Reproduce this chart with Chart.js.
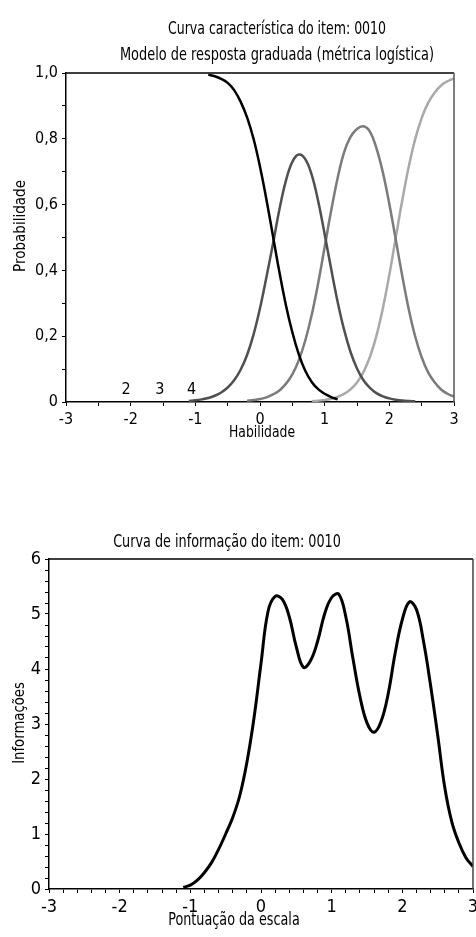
<!DOCTYPE html>
<html lang="pt">
<head>
<meta charset="utf-8">
<title>Curva característica do item: 0010</title>
<script src="https://cdn.jsdelivr.net/npm/chart.js@4"></script>
<style>
  html, body { margin: 0; padding: 0; background: #fff; }
  body { width: 476px; height: 937px; position: relative; overflow: hidden; }
  canvas { position: absolute; left: 0; }
  #curvaItem { top: 0; }
  #curvaInfo { top: 520px; }
</style>
</head>
<body>
<canvas id="curvaItem" width="476" height="450"></canvas>
<canvas id="curvaInfo" width="476" height="417"></canvas>
<script>
const FONTE = "'Liberation Sans Narrow', 'DejaVu Sans Condensed', 'Liberation Sans', sans-serif";

const habilidade = [-1.1, -1.0, -0.9, -0.8, -0.7, -0.6, -0.5, -0.4, -0.3, -0.2, -0.1, 0.0,
  0.1, 0.2, 0.3, 0.4, 0.5, 0.6, 0.7, 0.8, 0.9, 1.0, 1.1, 1.2, 1.3, 1.4, 1.5, 1.6, 1.7, 1.8,
  1.9, 2.0, 2.1, 2.2, 2.3, 2.4, 2.5, 2.6, 2.7, 2.8, 2.9, 3.0];

// probabilidade de cada categoria (null = trecho não desenhado)
const categoria1 = [null, null, null, 0.995, 0.99, 0.982, 0.97, 0.948, 0.913, 0.865, 0.80, 0.715,
  0.615, 0.505, 0.395, 0.295, 0.212, 0.145, 0.095, 0.061, 0.039, 0.025, 0.015, 0.008,
  null, null, null, null, null, null, null, null, null, null, null, null, null, null, null, null, null, null];
const categoria2 = [0.003, 0.005, 0.008, 0.012, 0.019, 0.029, 0.044, 0.066, 0.098, 0.143, 0.205, 0.285,
  0.38, 0.48, 0.585, 0.672, 0.73, 0.752, 0.738, 0.69, 0.61, 0.51, 0.405, 0.305, 0.22, 0.152, 0.102,
  0.066, 0.043, 0.027, 0.017, 0.011, 0.007, 0.0045, 0.003, 0.002, null, null, null, null, null, null];
const categoria3 = [null, null, null, null, null, null, null, null, null, 0.004, 0.006, 0.009,
  0.014, 0.023, 0.035, 0.055, 0.084, 0.127, 0.187, 0.265, 0.362, 0.471, 0.581, 0.68, 0.759, 0.806,
  0.83, 0.838, 0.822, 0.772, 0.698, 0.602, 0.493, 0.383, 0.282, 0.199, 0.136, 0.09, 0.06, 0.038, 0.025, 0.016];
const categoria4 = [null, null, null, null, null, null, null, null, null, null, null, null,
  null, null, null, null, null, null, null, 0.0025, 0.004, 0.0063, 0.01, 0.0157, 0.0246, 0.0384, 0.0595,
  0.091, 0.137, 0.201, 0.285, 0.387, 0.5, 0.613, 0.715, 0.799, 0.863, 0.909, 0.94, 0.962, 0.975, 0.984];

const coresCategoria = ["#000000", "#505050", "#7b7b7b", "#a9a9a9"];

// rótulos soltos perto do zero
const rotulosCategoria = ["2", "3", "4"];
const rotulosX = [-2.07, -1.55, -1.06];
const rotulosY = [0.025, 0.025, 0.025];

// função de informação do item
const informacao = [0.03, 0.07, 0.16, 0.30, 0.48, 0.72, 1.0, 1.3, 1.7, 2.3, 3.1, 4.1,
  5.05, 5.32, 5.27, 4.95, 4.4, 4.03, 4.15, 4.5, 5.0, 5.3, 5.36, 4.95, 4.2, 3.5, 3.02, 2.85,
  3.05, 3.55, 4.3, 4.9, 5.22, 5.08, 4.5, 3.7, 2.8, 1.85, 1.22, 0.84, 0.57, 0.41];

const pontos = arr => arr.map((v, i) => ({ x: habilidade[i], y: v }));

// textos livres (títulos e nomes dos eixos), um pouco comprimidos na horizontal
const textos = {
    id: "textos",
    afterDraw(chart, args, opts) {
        const ctx = chart.ctx;
        ctx.save();
        ctx.fillStyle = "#000";
        ctx.textAlign = "center";
        ctx.textBaseline = "alphabetic";
        (opts.itens || []).forEach(t => {
            ctx.save();
            ctx.font = t.tamanho + "px " + FONTE;
            ctx.translate(t.x, t.y);
            if (t.vertical) ctx.rotate(-Math.PI / 2);
            ctx.scale(t.k || 1, 1);
            ctx.fillText(t.texto, 0, 0);
            ctx.restore();
        });
        if (opts.rotulos) {
            const sx = chart.scales.x, sy = chart.scales.y;
            ctx.font = opts.rotulos.tamanho + "px " + FONTE;
            rotulosCategoria.forEach((r, i) => {
                ctx.fillText(r, sx.getPixelForValue(rotulosX[i]), sy.getPixelForValue(rotulosY[i]));
            });
        }
        ctx.restore();
    }
};

// borda de cima e da direita
const moldura = {
    id: "moldura",
    afterDraw(chart, args, opts) {
        const { ctx, chartArea: a } = chart;
        ctx.save();
        ctx.lineWidth = 1.5;
        ctx.strokeStyle = "#000";
        ctx.beginPath();
        ctx.moveTo(a.left, a.top);
        ctx.lineTo(a.right, a.top);
        ctx.stroke();
        ctx.strokeStyle = opts.corDireita;
        ctx.beginPath();
        ctx.moveTo(a.right, a.top);
        ctx.lineTo(a.right, a.bottom);
        ctx.stroke();
        ctx.restore();
    }
};

function eixo(tamanho) {
    return {
        grid: { display: true, drawOnChartArea: false, drawTicks: true, tickLength: 4, color: "#000", lineWidth: 1 },
        border: { display: true, color: "#000", width: 1.5 },
        ticks: { color: "#000", padding: 4, autoSkip: false, maxRotation: 0, font: { family: FONTE, size: tamanho } }
    };
}

const virgula = v => {
    const d = Math.round(v * 10);
    if (d % 2) return "";
    return d === 0 ? "0" : (d / 10).toFixed(1).replace(".", ",");
};
const inteiro = v => Math.abs(v - Math.round(v)) < 1e-6 ? String(Math.round(v)) : "";

// gráfico 1: curvas características
const ex1 = eixo(16), ey1 = eixo(16);
new Chart(document.getElementById("curvaItem"), {
    type: "line",
    data: {
        datasets: [categoria1, categoria2, categoria3, categoria4].map((c, i) => ({
            label: "Categoria " + (i + 1),
            data: pontos(c),
            borderColor: coresCategoria[i],
            borderWidth: 2.5,
            pointRadius: 0,
            fill: false,
            tension: 0.4
        }))
    },
    options: {
        responsive: false,
        animation: false,
        layout: { padding: { left: 0, right: 22, top: 73, bottom: 0 } },
        plugins: {
            legend: { display: false },
            tooltip: { enabled: false },
            textos: {
                itens: [
                    { texto: "Curva característica do item: 0010", x: 277, y: 33.5, tamanho: 17, k: 0.82 },
                    { texto: "Modelo de resposta graduada (métrica logística)", x: 277, y: 60, tamanho: 17, k: 0.845 },
                    { texto: "Habilidade", x: 262, y: 437, tamanho: 16, k: 0.86 },
                    { texto: "Probabilidade", x: 25, y: 226, tamanho: 16, k: 0.94, vertical: true }
                ],
                rotulos: { tamanho: 16 }
            },
            moldura: { corDireita: "#555" }
        },
        scales: {
            x: {
                type: "linear", min: -3, max: 3,
                grid: ex1.grid, border: ex1.border,
                ticks: { ...ex1.ticks, stepSize: 0.5, callback: inteiro },
                afterFit(s) { s.height = 48; s.paddingLeft = 0; s.paddingRight = 0; }
            },
            y: {
                min: 0, max: 1,
                grid: ey1.grid, border: ey1.border,
                ticks: { ...ey1.ticks, stepSize: 0.1, callback: virgula },
                afterFit(s) { s.width = 66; s.paddingTop = 0; s.paddingBottom = 0; }
            }
        }
    },
    plugins: [textos, moldura]
});

// gráfico 2: curva de informação
const ex2 = eixo(18), ey2 = eixo(18);
new Chart(document.getElementById("curvaInfo"), {
    type: "line",
    data: {
        datasets: [{
            label: "Informações",
            data: pontos(informacao),
            borderColor: "#000",
            borderWidth: 3,
            pointRadius: 0,
            fill: false,
            tension: 0.4
        }]
    },
    options: {
        responsive: false,
        animation: false,
        layout: { padding: { left: 0, right: 3, top: 39, bottom: 0 } },
        plugins: {
            legend: { display: false },
            tooltip: { enabled: false },
            textos: {
                itens: [
                    { texto: "Curva de informação do item: 0010", x: 227, y: 27, tamanho: 18, k: 0.79 },
                    { texto: "Pontuação da escala", x: 234, y: 405, tamanho: 17, k: 0.835 },
                    { texto: "Informações", x: 24, y: 203, tamanho: 16, k: 0.92, vertical: true }
                ]
            },
            moldura: { corDireita: "#444" }
        },
        scales: {
            x: {
                type: "linear", min: -3, max: 3,
                grid: ex2.grid, border: ex2.border,
                ticks: { ...ex2.ticks, stepSize: 0.2, callback: inteiro },
                afterFit(s) { s.height = 48; s.paddingLeft = 0; s.paddingRight = 0; }
            },
            y: {
                min: 0, max: 6,
                grid: ey2.grid, border: ey2.border,
                ticks: { ...ey2.ticks, stepSize: 0.2, callback: inteiro },
                afterFit(s) { s.width = 49; s.paddingTop = 0; s.paddingBottom = 0; }
            }
        }
    },
    plugins: [textos, moldura]
});
</script>
</body>
</html>
